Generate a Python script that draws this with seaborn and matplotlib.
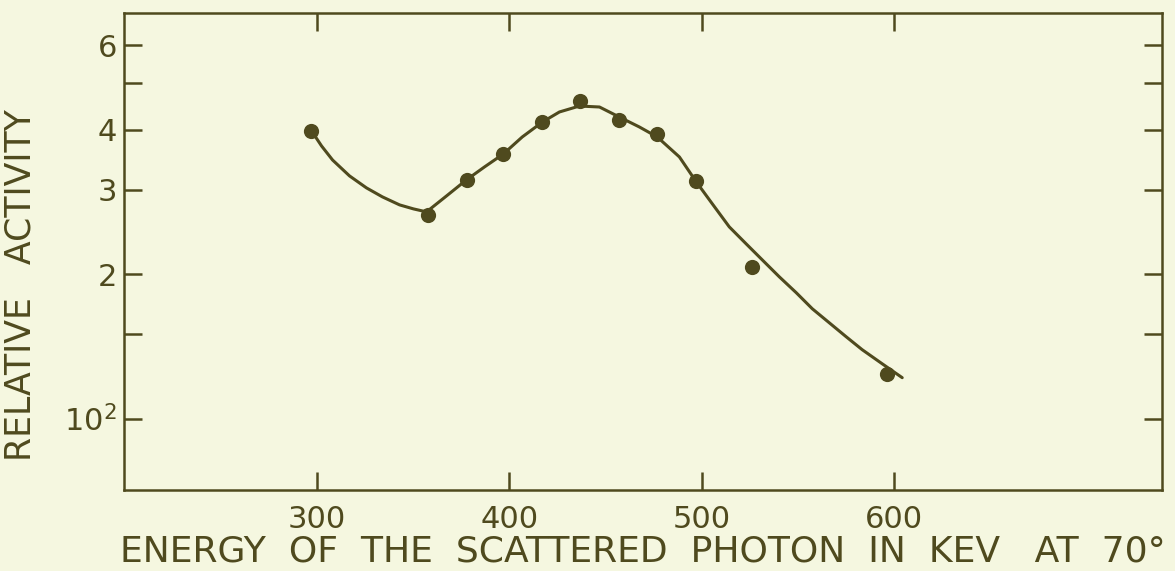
import matplotlib
matplotlib.use("Agg")
import matplotlib.pyplot as plt
import seaborn as sns
import pandas as pd
from matplotlib.ticker import NullLocator

# Measured data points (energy in keV, relative activity)
point_energy = [297, 358, 378, 397, 417, 437, 457, 477, 497, 526, 596]
point_activity = [398, 265, 314, 356, 414, 459, 419, 391, 313, 207, 124]

# Hand-drawn smooth curve
curve_energy = [297.4, 302.6, 308.3, 317.1, 325.9, 334.2, 343.1, 350.3, 357.1,
                367.5, 377.8, 387.2, 397.0, 406.8, 417.3, 426.1, 436.5, 446.9,
                457.2, 467.6, 476.9, 488.4, 497.2, 505.5, 514.3, 523.1, 531.4,
                540.3, 549.1, 557.4, 566.2, 575.0, 583.3, 593.7, 604.1]
curve_activity = [397.5, 369.8, 345.8, 320.4, 302.5, 289.7, 278.8, 273.5, 269.6,
                  291.1, 314.3, 334.5, 356.0, 386.2, 415.0, 435.4, 448.0, 445.9,
                  425.0, 405.2, 386.2, 350.9, 311.2, 280.2, 250.9, 231.2, 214.2,
                  197.4, 182.9, 169.4, 158.4, 148.1, 139.2, 130.1, 121.7]

x_ticks = [300, 400, 500, 600]
x_tick_labels = ["300", "400", "500", "600"]
y_ticks = [100, 150, 200, 300, 400, 500, 600]
y_tick_labels = ["$10^2$", "", "2", "3", "4", "", "6"]

ink = "#4f4a1e"
paper = "#f5f7e0"

sns.set_theme(style="white")
plt.rcParams["font.family"] = ["DejaVu Sans"]
plt.rcParams["mathtext.fontset"] = "dejavusans"

fig = plt.figure(figsize=(11.75, 5.71), dpi=100, facecolor=paper)
ax = fig.add_axes([124 / 1175, 81 / 571, (1162 - 124) / 1175, (490 - 13) / 571])
ax.set_facecolor(paper)

curve_df = pd.DataFrame({"energy": curve_energy, "activity": curve_activity})
pts_df = pd.DataFrame({"energy": point_energy, "activity": point_activity})

sns.lineplot(data=curve_df, x="energy", y="activity", ax=ax, color=ink,
             linewidth=2.2, estimator=None, sort=True,
             solid_joinstyle="round", solid_capstyle="round")
sns.scatterplot(data=pts_df, x="energy", y="activity", ax=ax, color=ink,
                s=120, edgecolor=ink, linewidth=0, zorder=3)

ax.set_yscale("log")
ax.set_xlim(200, 739)
ax.set_ylim(71, 700)

ax.set_xticks(x_ticks)
ax.set_xticklabels(x_tick_labels)
ax.set_yticks(y_ticks)
ax.set_yticklabels(y_tick_labels)
ax.yaxis.set_minor_locator(NullLocator())
ax.xaxis.set_minor_locator(NullLocator())

ax.tick_params(axis="both", which="major", direction="in", length=13, width=1.8,
               color=ink, labelcolor=ink, labelsize=22, top=True, right=True,
               bottom=True, left=True)
ax.tick_params(axis="x", pad=11)
ax.tick_params(axis="y", pad=5)

for sp in ax.spines.values():
    sp.set_visible(True)
    sp.set_color(ink)
    sp.set_linewidth(1.8)

ax.set_xlabel("ENERGY  OF  THE  SCATTERED  PHOTON  IN  KEV   AT  70°",
              fontsize=26, color=ink, labelpad=0)
ax.set_ylabel("RELATIVE   ACTIVITY", fontsize=25, color=ink)
ax.yaxis.set_label_coords(-0.083, 0.43)

fig.savefig("out.png", dpi=100, facecolor=paper)
